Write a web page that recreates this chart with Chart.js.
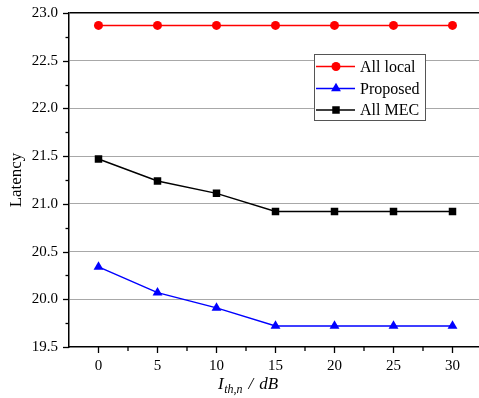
<!DOCTYPE html>
<html>
<head>
<meta charset="utf-8">
<script src="https://cdn.jsdelivr.net/npm/chart.js@4/dist/chart.umd.min.js"></script>
<style>
html,body{margin:0;padding:0;background:#fff;overflow:hidden;width:479px;height:398px;}
#wrap{width:490px;height:398px;}
</style>
</head>
<body>
<div id="wrap"><canvas id="c" width="490" height="398"></canvas></div>
<script>
const categories = ['0', '5', '10', '15', '20', '25', '30'];
const allLocal = [22.87, 22.87, 22.87, 22.87, 22.87, 22.87, 22.87];
const proposed = [20.34, 20.07, 19.91, 19.72, 19.72, 19.72, 19.72];
const allMEC = [21.47, 21.24, 21.11, 20.92, 20.92, 20.92, 20.92];
const yMin = 19.5, yMax = 23.0, yStep = 0.5;
const seriesNames = ['All local', 'Proposed', 'All MEC'];
const seriesColors = ['#ff0000', '#0000ff', '#000000'];
const seriesStyles = ['circle', 'triangle', 'rect'];
const yTitle = 'Latency';

const SERIF = '"Liberation Serif", "Times New Roman", serif';

function drawMarker(ctx, style, x, y, color) {
  ctx.save();
  ctx.fillStyle = color;
  ctx.beginPath();
  if (style === 'circle') {
    ctx.arc(x, y, 4.5, 0, Math.PI * 2);
  } else if (style === 'triangle') {
    const r = 5.7;
    ctx.moveTo(x, y - r);
    ctx.lineTo(x + r * Math.sin(2 * Math.PI / 3), y + r / 2);
    ctx.lineTo(x - r * Math.sin(2 * Math.PI / 3), y + r / 2);
    ctx.closePath();
  } else {
    const s = 3.75;
    ctx.rect(x - s, y - s, 2 * s, 2 * s);
  }
  ctx.fill();
  ctx.restore();
}

const decor = {
  id: 'decor',
  afterDraw(chart) {
    const ctx = chart.ctx;
    const xs = chart.scales.x, ys = chart.scales.y;
    const area = chart.chartArea;
    ctx.save();
    ctx.strokeStyle = '#000';
    ctx.lineWidth = 1.3;
    // y ticks (major + minor)
    for (let v = yMin; v <= yMax + 1e-9; v += yStep / 2) {
      const py = Math.round(ys.getPixelForValue(v)) + 0.5;
      const major = Math.abs((v - yMin) / yStep - Math.round((v - yMin) / yStep)) < 1e-6;
      const len = major ? 6 : 3.5;
      ctx.beginPath();
      ctx.moveTo(area.left - len, py);
      ctx.lineTo(area.left, py);
      ctx.stroke();
    }
    // x ticks
    const n = categories.length;
    for (let i = 0; i < n; i++) {
      const px = xs.getPixelForValue(i);
      ctx.beginPath();
      ctx.moveTo(px, area.bottom);
      ctx.lineTo(px, area.bottom + 6);
      ctx.stroke();
      const half = (xs.getPixelForValue(1) - xs.getPixelForValue(0)) / 2;
      ctx.beginPath();
      ctx.moveTo(px + half, area.bottom);
      ctx.lineTo(px + half, area.bottom + 4);
      ctx.stroke();
    }
    ctx.restore();

    // y title
    ctx.save();
    ctx.fillStyle = '#000';
    ctx.font = '17px ' + SERIF;
    ctx.textAlign = 'center';
    ctx.textBaseline = 'middle';
    ctx.translate(17, (area.top + area.bottom) / 2);
    ctx.rotate(-Math.PI / 2);
    ctx.fillText(yTitle, 0, 0);
    ctx.restore();

    // x title: I_{th,n} / dB
    ctx.save();
    ctx.fillStyle = '#000';
    ctx.textBaseline = 'alphabetic';
    ctx.textAlign = 'left';
    let x = 218, base = 389;
    ctx.font = 'italic 17px ' + SERIF;
    ctx.fillText('I', x, base);
    x += ctx.measureText('I').width + 0.5;
    ctx.font = 'italic 12px ' + SERIF;
    ctx.fillText('th,n', x, base + 4);
    x += ctx.measureText('th,n').width + 6;
    ctx.font = 'italic 17px ' + SERIF;
    ctx.fillText('/', x, base);
    x += ctx.measureText('/').width + 6;
    ctx.fillText('dB', x, base);
    ctx.restore();

    // legend
    ctx.save();
    const bx = 314.5, by = 54.5, bw = 111, bh = 66;
    ctx.fillStyle = '#fff';
    ctx.fillRect(bx, by, bw, bh);
    ctx.strokeStyle = '#555';
    ctx.lineWidth = 1;
    ctx.strokeRect(bx, by, bw, bh);
    const rows = [66.5, 88.5, 110];
    ctx.font = '16px ' + SERIF;
    ctx.textBaseline = 'middle';
    ctx.textAlign = 'left';
    for (let i = 0; i < seriesNames.length; i++) {
      const ry = rows[i];
      ctx.strokeStyle = seriesColors[i];
      ctx.lineWidth = 1.5;
      ctx.beginPath();
      ctx.moveTo(316, ry);
      ctx.lineTo(355, ry);
      ctx.stroke();
      drawMarker(ctx, seriesStyles[i], 336, ry, seriesColors[i]);
      ctx.fillStyle = '#000';
      ctx.fillText(seriesNames[i], 360, ry + 1);
    }
    ctx.restore();
  }
};

const seriesData = [allLocal, proposed, allMEC];
const radii = [4.5, 5.7, 5.3];

new Chart(document.getElementById('c'), {
  type: 'line',
  data: {
    labels: categories,
    datasets: seriesData.map((d, i) => ({
      label: seriesNames[i],
      data: d,
      borderColor: seriesColors[i],
      backgroundColor: seriesColors[i],
      pointBackgroundColor: seriesColors[i],
      pointStyle: seriesStyles[i],
      pointRadius: radii[i],
      pointBorderWidth: 0,
      borderWidth: 1.5,
      tension: 0,
      fill: false
    }))
  },
  options: {
    responsive: false,
    animation: false,
    devicePixelRatio: 1,
    layout: { padding: { top: 13, right: 8, left: 0, bottom: 0 } },
    plugins: { legend: { display: false }, tooltip: { enabled: false } },
    scales: {
      x: {
        type: 'category',
        offset: true,
        grid: { display: false, drawTicks: false },
        border: { display: true, color: '#000', width: 1.5 },
        ticks: { color: '#000', font: { family: SERIF, size: 15 }, padding: 10, maxRotation: 0 },
        afterFit(s) { s.height = 51; s.paddingLeft = 0; s.paddingRight = 0; }
      },
      y: {
        min: yMin,
        max: yMax,
        ticks: {
          stepSize: yStep,
          color: '#000',
          font: { family: SERIF, size: 15 },
          padding: 11,
          callback: v => Number(v).toFixed(1)
        },
        grid: {
          drawTicks: false,
          color: c => (c.tick && Math.abs(c.tick.value - yMax) < 1e-6) ? '#000' : ((c.tick && Math.abs(c.tick.value - yMin) < 1e-6) ? 'rgba(0,0,0,0)' : '#a8a8a8'),
          lineWidth: c => (c.tick && Math.abs(c.tick.value - yMax) < 1e-6) ? 1.5 : 1
        },
        border: { display: true, color: '#000', width: 1.5 },
        afterFit(s) { s.width = 69; s.paddingTop = 0; s.paddingBottom = 0; }
      }
    }
  },
  plugins: [decor]
});
</script>
</body>
</html>
